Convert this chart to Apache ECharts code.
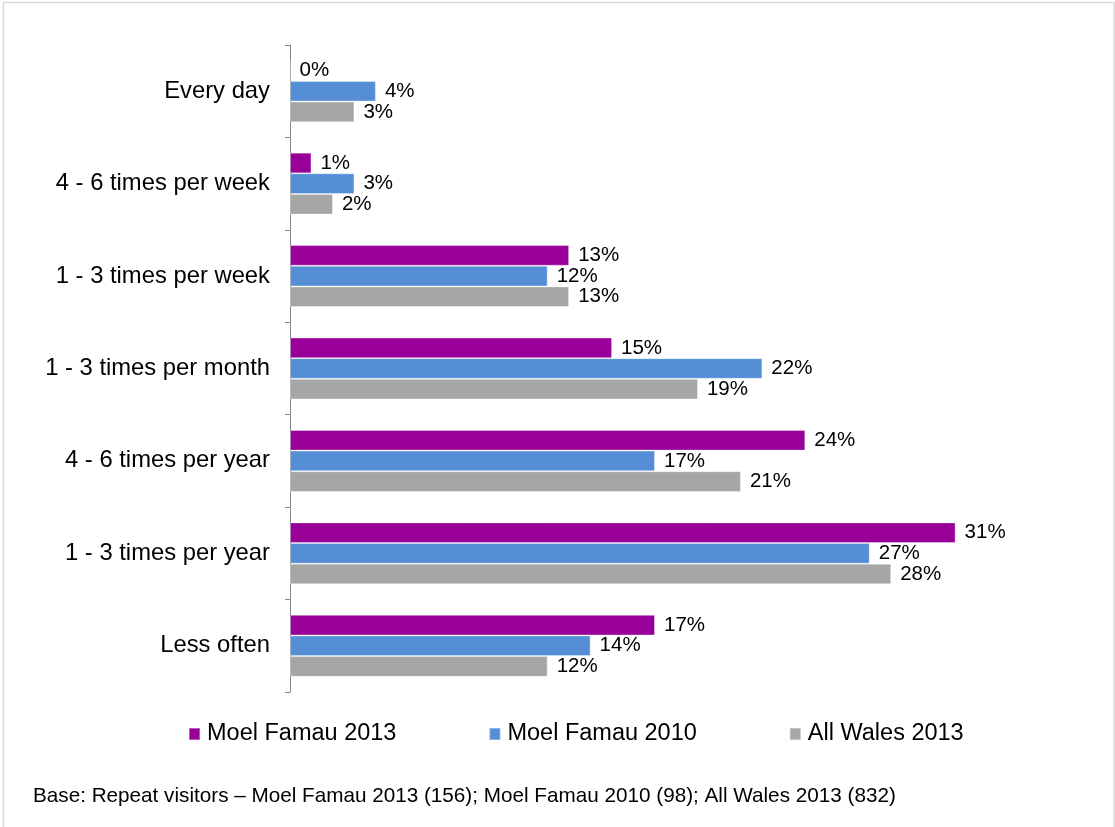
<!DOCTYPE html>
<html>
<head>
<meta charset="utf-8">
<script src="https://cdn.jsdelivr.net/npm/echarts@6/dist/echarts.min.js"></script>
<style>
  html, body { margin: 0; padding: 0; background: #fff; }
  #chart { width: 1115px; height: 827px; }
</style>
</head>
<body>
<div id="chart"></div>
<script>
// Visit frequency of repeat visitors, in percent
const categories = [
  'Every day',
  '4 - 6 times per week',
  '1 - 3 times per week',
  '1 - 3 times per month',
  '4 - 6 times per year',
  '1 - 3 times per year',
  'Less often'
];
const seriesNames = ['Moel Famau 2013', 'Moel Famau 2010', 'All Wales 2013'];
const moelFamau2013 = [0, 1, 13, 15, 24, 31, 17];
const moelFamau2010 = [4, 3, 12, 22, 17, 27, 14];
const allWales2013 = [3, 2, 13, 19, 21, 28, 12];
const footnote = 'Base: Repeat visitors \u2013 Moel Famau 2013 (156); Moel Famau 2010 (98); All Wales 2013 (832)';

const colors = ['#990099', '#558ED5', '#A6A6A6'];
const FONT = '"Liberation Sans", Arial, sans-serif';

function barSeries(name, values, color) {
  return {
    name: name,
    type: 'bar',
    data: values,
    barGap: '0%',
    barCategoryGap: '33%',
    itemStyle: { color: color, borderColor: 'rgba(255,255,255,0.35)', borderWidth: 1 },
    label: {
      show: true,
      position: 'right',
      distance: 9,
      formatter: '{c}%',
      color: '#000',
      fontFamily: FONT,
      fontSize: 20.5
    },
    emphasis: { disabled: true },
    animation: false
  };
}

const chart = echarts.init(document.getElementById('chart'), null, { renderer: 'canvas' });
chart.setOption({
  backgroundColor: '#fff',
  animation: false,
  grid: { left: 290, right: 73.5, top: 45, bottom: 135, containLabel: false },
  xAxis: {
    type: 'value',
    min: 0,
    max: 35,
    show: false
  },
  yAxis: {
    type: 'category',
    data: categories,
    inverse: true,
    axisLine: { show: true, lineStyle: { color: '#868686', width: 1 } },
    axisTick: { show: true, length: 5, lineStyle: { color: '#868686' } },
    axisLabel: { margin: 20, color: '#000', fontFamily: FONT, fontSize: 23.8 },
    splitLine: { show: false }
  },
  legend: {
    data: seriesNames,
    left: 188,
    top: 720,
    padding: 0,
    itemWidth: 11,
    itemHeight: 12,
    itemGap: 92,
    icon: 'rect',
    selectedMode: false,
    textStyle: {
      color: '#000',
      fontFamily: FONT,
      fontSize: 23.5,
      lineHeight: 28,
      padding: [0, 0, 0, 2]
    }
  },
  graphic: [
    {
      type: 'rect',
      silent: true,
      shape: { x: 3.5, y: 2.5, width: 1110.5, height: 840 },
      style: { fill: 'none', stroke: '#D9D9D9', lineWidth: 1.5 }
    },
    {
      type: 'text',
      left: 33,
      top: 786,
      silent: true,
      style: {
        text: footnote,
        fill: '#000',
        font: '20.7px ' + FONT
      }
    }
  ],
  series: [
    barSeries(seriesNames[0], moelFamau2013, colors[0]),
    barSeries(seriesNames[1], moelFamau2010, colors[1]),
    barSeries(seriesNames[2], allWales2013, colors[2])
  ]
});
</script>
</body>
</html>
